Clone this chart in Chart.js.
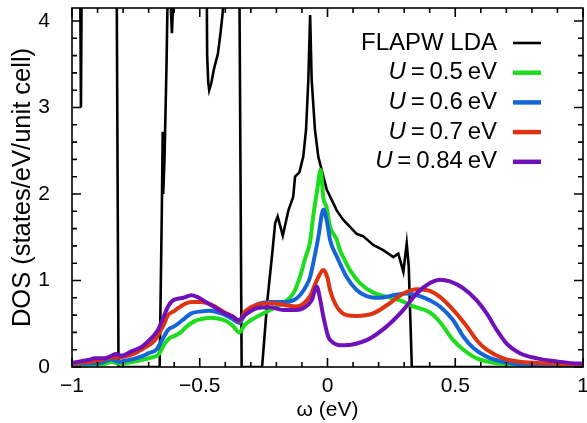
<!DOCTYPE html>
<html>
<head>
<meta charset="utf-8">
<script src="https://cdn.jsdelivr.net/npm/chart.js@4/dist/chart.umd.min.js"></script>
<style>
  html, body { margin: 0; padding: 0; background: #fff; }
  #wrap { width: 587px; height: 423px; position: relative; }
</style>
</head>
<body>
<div id="wrap"><canvas id="chart"></canvas></div>
<script>
"use strict";

// ── Data ───────────────────────────────────────────────────────────────────
const X_TICKS = [-1, -0.5, 0, 0.5, 1];
const Y_TICKS = [0, 1, 2, 3, 4];

const LEGEND_LABELS = [
  "FLAPW LDA",
  "U\u2009=\u20090.5\u2009eV",
  "U\u2009=\u20090.6\u2009eV",
  "U\u2009=\u20090.7\u2009eV",
  "U\u2009=\u20090.84\u2009eV",
];
const COLORS = ["#000000", "#1fdc1f", "#1565d8", "#dd3311", "#7010b8"];

// FLAPW LDA (goes off the top of the axis in several places)
const lda_w = [-1, -0.969, -0.965, -0.961, -0.826, -0.818, -0.657, -0.648, -0.645, -0.643,
  -0.638, -0.630, -0.622, -0.614, -0.609, -0.604, -0.598, -0.474, -0.471, -0.467, -0.463,
  -0.455, -0.444, -0.429, -0.418, -0.410, -0.400, -0.346, -0.336, -0.256, -0.236, -0.215,
  -0.205, -0.195, -0.175, -0.153, -0.134, -0.127, -0.110, -0.095, -0.084, -0.075, -0.068,
  -0.062, -0.049, -0.036, -0.003, 0.036, 0.062, 0.088, 0.114, 0.140, 0.179, 0.218, 0.258,
  0.277, 0.297, 0.310, 0.318, 0.330, 1];
const lda_dos = [5, 5, 3.0, 5, 5, 0, 0, 1.9, 2.72, 2.0,
  2.4, 3.5, 5, 4.2, 3.86, 4.2, 5, 5, 3.6, 3.3, 3.2,
  3.28, 3.45, 3.62, 3.88, 4.1, 5, 5, 0, 0, 0.75, 1.35,
  1.66, 1.74, 1.52, 1.81, 1.97, 2.20, 2.25, 2.43, 2.74, 3.32, 4.07,
  3.32, 2.74, 2.43, 2.05, 1.81, 1.70, 1.62, 1.54, 1.51, 1.41, 1.35, 1.27,
  1.31, 1.10, 1.43, 1.16, 0, 0];

// U = 0.5 eV
const u05_w = [-1, -0.92, -0.872, -0.846, -0.82, -0.78, -0.729, -0.69, -0.663, -0.637,
  -0.616, -0.598, -0.575, -0.551, -0.52, -0.5, -0.46, -0.43, -0.395, -0.369, -0.345,
  -0.323, -0.30, -0.277, -0.225, -0.173, -0.134, -0.108, -0.088, -0.068, -0.056, -0.04,
  -0.027, -0.016, -0.005, 0.010, 0.025, 0.035, 0.049, 0.070, 0.088, 0.127, 0.179, 0.232,
  0.284, 0.336, 0.401, 0.440, 0.492, 0.532, 0.584, 0.649, 0.753, 1];
const u05_dos = [0.02, 0.03, 0.035, 0.06, 0.04, 0.05, 0.08, 0.11, 0.14, 0.27,
  0.34, 0.36, 0.40, 0.47, 0.53, 0.55, 0.57, 0.56, 0.53, 0.47, 0.40,
  0.49, 0.54, 0.58, 0.66, 0.74, 0.85, 1.04, 1.25, 1.45, 1.74, 2.05,
  2.28, 1.95, 1.86, 1.62, 1.53, 1.48, 1.35, 1.22, 1.12, 0.97, 0.86, 0.81,
  0.77, 0.70, 0.63, 0.52, 0.31, 0.20, 0.10, 0.05, 0.02, 0.01];

// U = 0.6 eV
const u06_w = [-1, -0.93, -0.885, -0.846, -0.82, -0.78, -0.729, -0.70, -0.670, -0.644,
  -0.624, -0.600, -0.585, -0.560, -0.533, -0.50, -0.46, -0.43, -0.408, -0.369, -0.345,
  -0.323, -0.30, -0.277, -0.225, -0.173, -0.134, -0.108, -0.081, -0.068, -0.049, -0.036,
  -0.016, 0.0, 0.010, 0.036, 0.075, 0.114, 0.153, 0.205, 0.258, 0.31, 0.362, 0.401,
  0.440, 0.492, 0.532, 0.571, 0.623, 0.688, 0.819, 1];
const u06_dos = [0.035, 0.04, 0.05, 0.09, 0.06, 0.08, 0.12, 0.16, 0.20, 0.33,
  0.43, 0.47, 0.50, 0.56, 0.62, 0.64, 0.65, 0.63, 0.61, 0.55, 0.51,
  0.61, 0.67, 0.72, 0.75, 0.75, 0.77, 0.83, 0.95, 1.04, 1.30, 1.50,
  1.82, 1.65, 1.47, 1.28, 1.04, 0.89, 0.82, 0.80, 0.83, 0.85, 0.82, 0.77,
  0.70, 0.54, 0.35, 0.22, 0.12, 0.06, 0.02, 0.02];

// U = 0.7 eV
const u07_w = [-1, -0.93, -0.885, -0.846, -0.82, -0.794, -0.76, -0.729, -0.70, -0.676,
  -0.644, -0.624, -0.604, -0.585, -0.564, -0.533, -0.50, -0.473, -0.44, -0.408, -0.369,
  -0.345, -0.323, -0.30, -0.277, -0.225, -0.173, -0.121, -0.095, -0.068, -0.042, -0.016,
  0.0, 0.010, 0.036, 0.075, 0.114, 0.179, 0.245, 0.297, 0.349, 0.401, 0.440, 0.492,
  0.545, 0.584, 0.623, 0.688, 0.753, 0.884, 1];
const u07_dos = [0.04, 0.06, 0.08, 0.11, 0.11, 0.12, 0.15, 0.20, 0.25, 0.31,
  0.47, 0.60, 0.64, 0.68, 0.72, 0.75, 0.75, 0.74, 0.70, 0.64, 0.58,
  0.53, 0.64, 0.69, 0.72, 0.74, 0.72, 0.70, 0.73, 0.82, 1.0, 1.12,
  1.03, 0.89, 0.70, 0.60, 0.59, 0.62, 0.74, 0.85, 0.90, 0.88, 0.81, 0.66,
  0.47, 0.31, 0.20, 0.10, 0.06, 0.04, 0.02];

// U = 0.84 eV
const u084_w = [-1, -0.937, -0.911, -0.872, -0.846, -0.827, -0.807, -0.768, -0.729, -0.690,
  -0.663, -0.644, -0.624, -0.605, -0.585, -0.564, -0.533, -0.51, -0.486, -0.447, -0.408,
  -0.37, -0.349, -0.323, -0.277, -0.225, -0.173, -0.121, -0.095, -0.062, -0.042, -0.030,
  -0.016, 0.003, 0.023, 0.062, 0.153, 0.232, 0.297, 0.349, 0.401, 0.440, 0.479, 0.532,
  0.584, 0.623, 0.662, 0.701, 0.753, 0.819, 0.884, 0.988, 1];
const u084_dos = [0.05, 0.08, 0.10, 0.10, 0.13, 0.15, 0.13, 0.18, 0.23, 0.33,
  0.43, 0.56, 0.70, 0.77, 0.79, 0.80, 0.83, 0.81, 0.77, 0.70, 0.63,
  0.58, 0.54, 0.60, 0.68, 0.69, 0.66, 0.66, 0.68, 0.77, 0.93, 0.80,
  0.58, 0.35, 0.28, 0.25, 0.31, 0.47, 0.66, 0.85, 0.97, 1.01, 0.99, 0.91,
  0.77, 0.62, 0.43, 0.27, 0.16, 0.10, 0.07, 0.04, 0.04];

const SERIES_W = [lda_w, u05_w, u06_w, u07_w, u084_w];
const SERIES_DOS = [lda_dos, u05_dos, u06_dos, u07_dos, u084_dos];

// ── Chart.js defaults ──────────────────────────────────────────────────────
const FONT = "'Liberation Sans', Arial, Helvetica, sans-serif";
Chart.defaults.font.family = FONT;
Chart.defaults.color = "#000";

function fmtTick(v) {
  return v < 0 ? "\u2212" + Math.abs(v) : String(v);
}

// ── Frame with inward ticks on all four sides ──────────────────────────────
const frameTicks = {
  id: "frameTicks",
  afterDraw(chart) {
    const { ctx, chartArea: a, scales: { x, y } } = chart;
    ctx.save();
    ctx.strokeStyle = "#000";
    ctx.lineWidth = 1.6;
    ctx.strokeRect(a.left, a.top, a.right - a.left, a.bottom - a.top);
    ctx.beginPath();
    for (let i = -10; i <= 10; i++) {
      const px = x.getPixelForValue(i / 10);
      const len = i % 5 === 0 ? 9 : 5;
      ctx.moveTo(px, a.bottom); ctx.lineTo(px, a.bottom - len);
      ctx.moveTo(px, a.top); ctx.lineTo(px, a.top + len);
    }
    for (let j = 0; j <= 20; j++) {
      const py = y.getPixelForValue(j / 5);
      const len = j % 5 === 0 ? 9 : 5;
      ctx.moveTo(a.left, py); ctx.lineTo(a.left + len, py);
      ctx.moveTo(a.right, py); ctx.lineTo(a.right - len, py);
    }
    ctx.stroke();
    ctx.restore();
  },
};

// ── Legend: right-aligned text with line sample on the right ───────────────
const keyLegend = {
  id: "keyLegend",
  afterDraw(chart) {
    const { ctx, chartArea: a } = chart;
    const textRight = a.right - 86;
    ctx.save();
    ctx.textBaseline = "middle";
    ctx.textAlign = "right";
    LEGEND_LABELS.forEach((label, i) => {
      const yy = a.top + 35 + i * 29.7;
      const regular = "24px " + FONT;
      ctx.fillStyle = "#000";
      if (label.startsWith("U")) {
        const rest = label.slice(1);
        ctx.font = regular;
        ctx.fillText(rest, textRight, yy);
        const w = ctx.measureText(rest).width;
        ctx.font = "italic " + regular;
        ctx.fillText("U", textRight - w, yy);
      } else {
        ctx.font = regular;
        ctx.fillText(label, textRight, yy);
      }
      ctx.strokeStyle = COLORS[i];
      ctx.lineWidth = i === 0 ? 2.6 : 4.5;
      ctx.beginPath();
      ctx.moveTo(a.right - 70, yy);
      ctx.lineTo(a.right - 42, yy);
      ctx.stroke();
    });
    ctx.restore();
  },
};

// ── Build and draw ─────────────────────────────────────────────────────────
const datasets = LEGEND_LABELS.map((label, i) => ({
  label,
  data: SERIES_W[i].map((w, k) => ({ x: w, y: SERIES_DOS[i][k] })),
  borderColor: COLORS[i],
  borderWidth: i === 0 ? 2.6 : 4,
  pointRadius: 0,
  fill: false,
  tension: i === 0 ? 0 : 0.4,
  cubicInterpolationMode: i === 0 ? "default" : "monotone",
  order: 4 - i,
}));

new Chart(document.getElementById("chart").getContext("2d"), {
  type: "line",
  data: { datasets },
  options: {
    responsive: true,
    maintainAspectRatio: false,
    animation: false,
    layout: { padding: { top: 8, right: 4, left: 0, bottom: 0 } },
    plugins: {
      legend: { display: false },
      tooltip: { enabled: false },
    },
    scales: {
      x: {
        type: "linear",
        min: -1,
        max: 1,
        afterBuildTicks: s => { s.ticks = X_TICKS.map(v => ({ value: v })); },
        afterFit: s => { s.height = 56; s.paddingLeft = 0; s.paddingRight = 0; },
        grid: { display: false, drawTicks: false },
        border: { display: false },
        ticks: { callback: fmtTick, font: { size: 21 }, padding: 7, maxRotation: 0 },
        title: { display: true, text: "\u03c9 (eV)", font: { size: 21 }, padding: { top: 0, bottom: 0 } },
      },
      y: {
        type: "linear",
        min: 0,
        max: 4.15,
        afterBuildTicks: s => { s.ticks = Y_TICKS.map(v => ({ value: v })); },
        afterFit: s => { s.width = 72; s.paddingTop = 0; s.paddingBottom = 0; },
        grid: { display: false, drawTicks: false },
        border: { display: false },
        ticks: { callback: fmtTick, font: { size: 21 }, padding: 22 },
        title: { display: true, text: "DOS (states/eV/unit cell)", font: { size: 25.5 }, padding: { top: 8, bottom: 0 } },
      },
    },
  },
  plugins: [frameTicks, keyLegend],
});
</script>
</body>
</html>
